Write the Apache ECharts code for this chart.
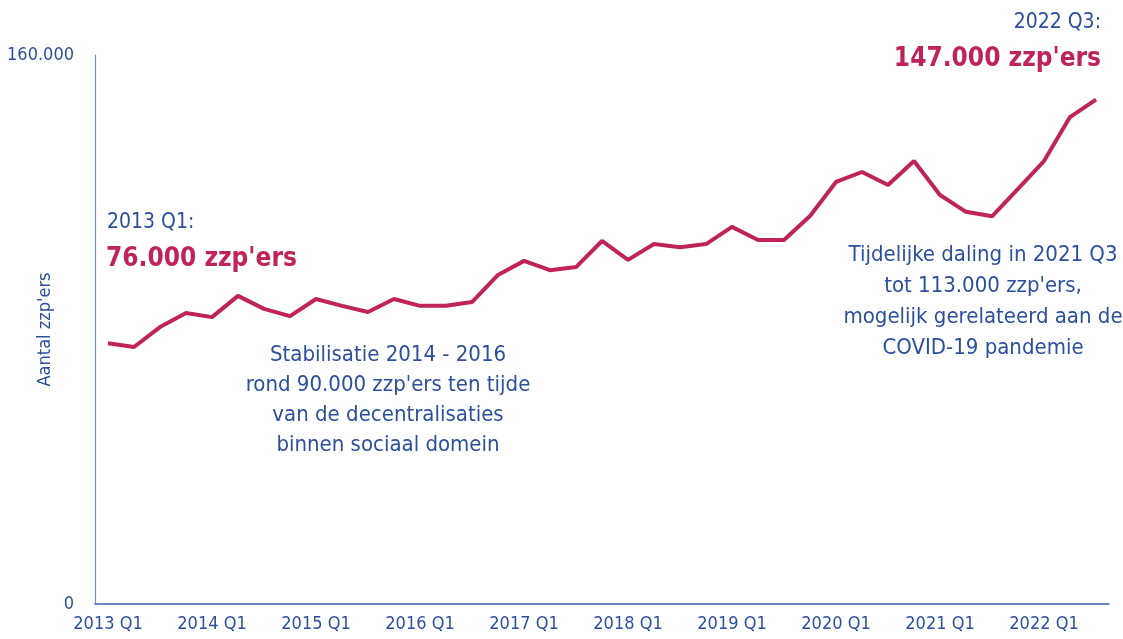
<!DOCTYPE html>
<html>
<head>
<meta charset="utf-8">
<script src="https://cdn.jsdelivr.net/npm/echarts@6/dist/echarts.min.js"></script>
<style>
  html, body { margin: 0; padding: 0; background: #fff; }
  #main { width: 1123px; height: 639px; }
</style>
</head>
<body>
<div id="main"></div>
<script>
// kwartalen 2013 Q1 t/m 2022 Q3
var quarters = [];
for (var y = 2013; y <= 2022; y++) {
    for (var q = 1; q <= 4; q++) {
        if (y === 2022 && q > 3) break;
        quarters.push(y + ' Q' + q);
    }
}
var zzpers = [
    76000, 74900, 80700, 84800,
    83600, 89800, 86000, 83900,
    88900, 86900, 85100, 88900,
    86900, 86900, 88000, 95900,
    100000, 97300, 98200, 105800,
    100300, 104900, 104000, 104900,
    109900, 106100, 106100, 113100,
    123000, 125900, 122100, 129100,
    119200, 114300, 113000, 121000,
    129100, 141900, 147000
];
var yTicks = [0, 160000];

var blue = '#2c4f9e';
var red = '#c0235a';
var font = '"DejaVu Sans Condensed", Roboto, sans-serif';

function fmt(v) {
    return String(v).replace(/\B(?=(\d{3})+(?!\d))/g, '.');
}

var myChart = echarts.init(document.getElementById('main'));
var option = {
    animation: false,
    textStyle: { fontFamily: font },
    grid: { left: 95, right: 14, top: 55, bottom: 35, containLabel: false, outerBoundsMode: 'none' },
    xAxis: {
        type: 'category',
        data: quarters,
        boundaryGap: true,
        axisLine: { lineStyle: { color: '#3a62b4', width: 1.5 } },
        axisTick: { show: false },
        axisLabel: {
            interval: 3,
            color: blue,
            fontSize: 18,
            margin: 11,
            fontFamily: font
        }
    },
    yAxis: {
        type: 'value',
        min: yTicks[0],
        max: yTicks[1],
        interval: yTicks[1],
        name: "Aantal zzp'ers",
        nameLocation: 'middle',
        nameGap: 41,
        nameMoveOverlap: false,
        nameTextStyle: { color: blue, fontSize: 18, fontFamily: font },
        axisLine: { show: true, lineStyle: { color: '#7c8ccc', width: 1.2 } },
        axisTick: { show: false },
        splitLine: { show: false },
        axisLabel: {
            color: blue,
            fontSize: 18,
            margin: 21,
            fontFamily: font,
            formatter: fmt
        }
    },
    series: [{
        type: 'line',
        data: zzpers,
        symbol: 'none',
        lineStyle: { color: red, width: 4 },
        itemStyle: { color: red }
    }],
    graphic: [
        { type: 'text', left: 107, top: 212,
          style: { text: '2013 Q1:', fill: blue, font: '21px ' + font } },
        { type: 'text', left: 106, top: 246,
          style: { text: "76.000 zzp'ers", fill: red, font: 'bold 26px ' + font } },
        { type: 'text', right: 22, top: 12,
          style: { text: '2022 Q3:', fill: blue, font: '21px ' + font } },
        { type: 'text', right: 22, top: 46,
          style: { text: "147.000 zzp'ers", fill: red, font: 'bold 26px ' + font } },
        { type: 'text', x: 388, y: 340,
          style: {
              text: 'Stabilisatie 2014 - 2016\nrond 90.000 zzp\'ers ten tijde\nvan de decentralisaties\nbinnen sociaal domein',
              fill: blue, font: '22px ' + font, align: 'center', lineHeight: 30
          } },
        { type: 'text', x: 983, y: 240,
          style: {
              text: 'Tijdelijke daling in 2021 Q3\ntot 113.000 zzp\'ers,\nmogelijk gerelateerd aan de\nCOVID-19 pandemie',
              fill: blue, font: '22px ' + font, align: 'center', lineHeight: 31
          } }
    ]
};

myChart.setOption(option);
</script>
</body>
</html>
